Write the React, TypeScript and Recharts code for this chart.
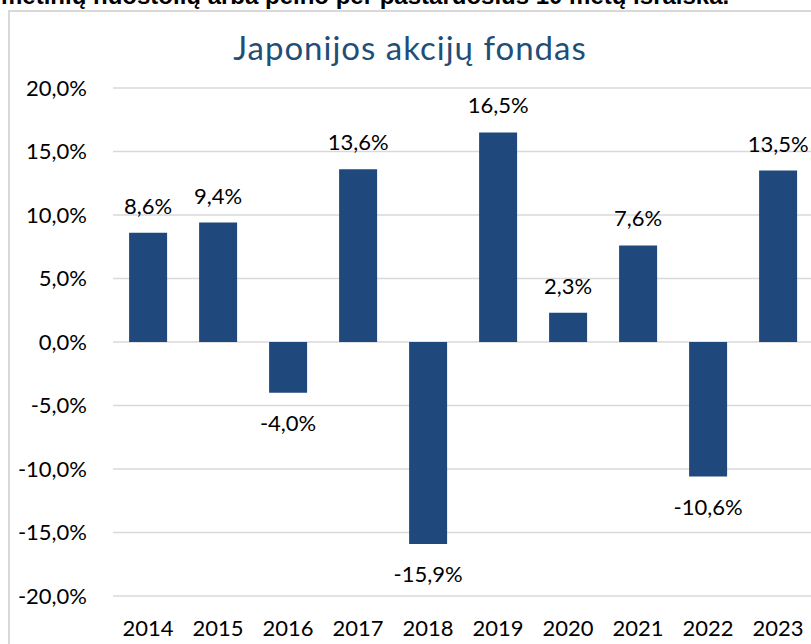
import React from "react";
import { BarChart, Bar, XAxis, YAxis, CartesianGrid, LabelList } from "recharts";

// Metai ir metinė grąža (%)
const metai = ["2014", "2015", "2016", "2017", "2018", "2019", "2020", "2021", "2022", "2023"];
const graza = [8.6, 9.4, -4.0, 13.6, -15.9, 16.5, 2.3, 7.6, -10.6, 13.5];
const yTicks = [-20, -15, -10, -5, 0, 5, 10, 15, 20];

const SPALVA = "#1f497d";
const SRIFTAS = "Lato, 'Open Sans', sans-serif";

const data = metai.map((m, i) => ({ metai: m, graza: graza[i] }));

const fmt = (v: number) => `${v.toFixed(1).replace(".", ",")}%`;

// Etiketė virš teigiamo stulpelio arba po neigiamu
const Etikete = (props: any) => {
  const { x, y, width, height, value } = props;
  const virsus = Math.min(y, y + height);
  const apacia = Math.max(y, y + height);
  const ty = value >= 0 ? virsus - 19 : apacia + 38;
  return (
    <text x={x + width / 2} y={ty} textAnchor="middle" fill="#000" fontSize={22} fontFamily={SRIFTAS}>
      {fmt(value)}
    </text>
  );
};

export default function App() {
  return (
    <div
      style={{
        position: "fixed",
        left: 0,
        top: 0,
        width: 811,
        height: 644,
        overflow: "hidden",
        background: "#fff",
      }}
    >
      <div
        style={{
          position: "absolute",
          left: 1,
          top: -18,
          fontFamily: "'Liberation Sans', Arial, sans-serif",
          fontWeight: 700,
          fontSize: 24,
          whiteSpace: "nowrap",
          color: "#000",
        }}
      >
        metinių nuostolių arba pelno per pastaruosius 10 metų išraiška.
      </div>
      <div
        style={{
          position: "absolute",
          left: 8,
          top: 10,
          width: 900,
          height: 700,
          border: "2px solid #d9d9d9",
        }}
      />
      <div
        style={{
          position: "absolute",
          left: 0,
          top: 27,
          width: 820,
          textAlign: "center",
          fontFamily: SRIFTAS,
          fontSize: 33,
          letterSpacing: 1,
          color: "#1f4e79",
        }}
      >
        Japonijos akcijų fondas
      </div>
      <div style={{ position: "absolute", left: 0, top: 0 }}>
        <BarChart
          width={813}
          height={660}
          data={data}
          margin={{ top: 88, right: 0, bottom: 0, left: 0 }}
          barCategoryGap="23%"
        >
          <CartesianGrid vertical={false} stroke="#d9d9d9" strokeWidth={1.5} />
          <XAxis
            dataKey="metai"
            axisLine={false}
            tickLine={false}
            tickSize={0}
            tickMargin={24}
            height={64}
            tick={{ fontSize: 22, fill: "#000", fontFamily: SRIFTAS }}
            interval={0}
          />
          <YAxis
            domain={[-20, 20]}
            ticks={yTicks}
            width={113}
            axisLine={false}
            tickLine={false}
            tickSize={0}
            tickMargin={26}
            tickFormatter={fmt}
            tick={{ fontSize: 22, fill: "#000", fontFamily: SRIFTAS }}
          />
          <Bar dataKey="graza" fill={SPALVA} isAnimationActive={false}>
            <LabelList dataKey="graza" content={Etikete} />
          </Bar>
        </BarChart>
      </div>
    </div>
  );
}
